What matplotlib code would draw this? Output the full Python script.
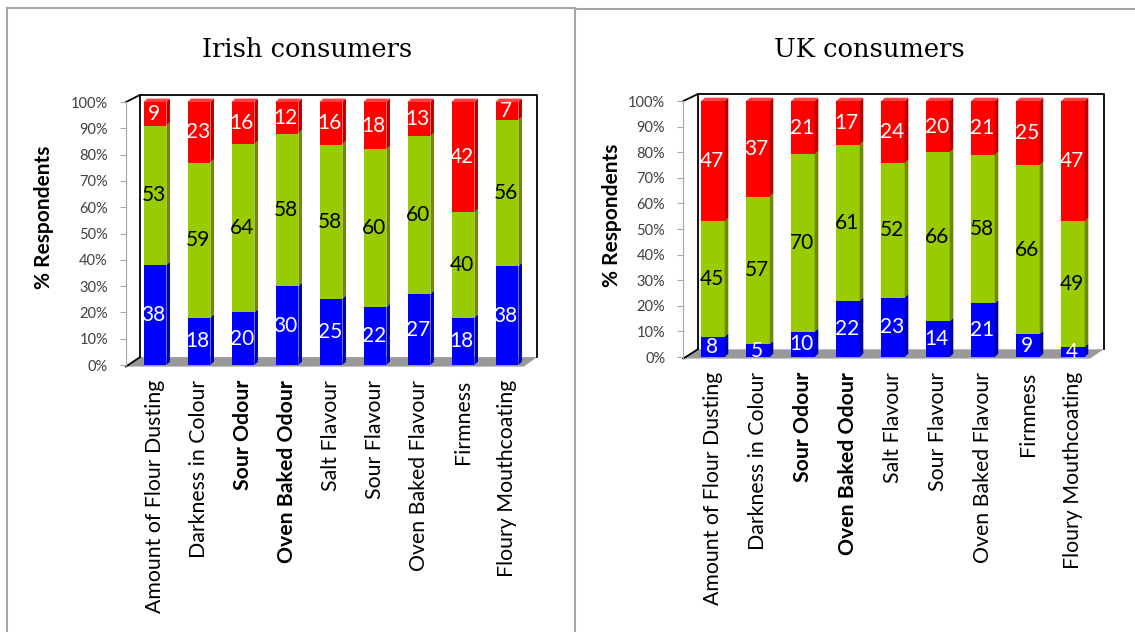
import matplotlib
matplotlib.use("Agg")
import matplotlib.pyplot as plt
import numpy as np
from matplotlib.patches import Polygon
from matplotlib.lines import Line2D

plt.rcParams['font.family'] = ['Lato', 'DejaVu Sans']

categories = ["Amount of Flour Dusting", "Darkness in Colour", "Sour Odour",
              "Oven Baked Odour", "Salt Flavour", "Sour Flavour",
              "Oven Baked Flavour", "Firmness", "Floury Mouthcoating"]
bold_categories = ["Sour Odour", "Oven Baked Odour"]

irish_blue = [38, 18, 20, 30, 25, 22, 27, 18, 38]
irish_green = [53, 59, 64, 58, 58, 60, 60, 40, 56]
irish_red = [9, 23, 16, 12, 16, 18, 13, 42, 7]

uk_blue = [8, 5, 10, 22, 23, 14, 21, 9, 4]
uk_green = [45, 57, 70, 61, 52, 66, 58, 66, 49]
uk_red = [47, 37, 21, 17, 24, 20, 21, 25, 47]

yticks = list(range(0, 101, 10))
ytick_labels = [str(v) + "%" for v in yticks]

# front, side, top colours, text colour
styles = [("#0000FF", "#0000A8", "#4040FF", "white"),
          ("#99CC00", "#6B8C00", "#B5DB40", "black"),
          ("#FF0000", "#B80000", "#FF4040", "white")]

W, H = 1135, 632


def px_rect(l, r, t, b):
    return [l / W, 1 - b / H, (r - l) / W, (b - t) / H]


def draw_panel(ax, series):
    x = np.arange(len(categories))
    w = 0.52
    ddx, ddy = 0.08, 1.3
    fx, bx, rx, frx = -0.66, -0.34, 8.68, 8.38
    fy0, fy1, top = -0.6, 3.0, 102.7

    # floor and back wall
    ax.add_patch(Polygon([(fx, fy0), (frx, fy0), (rx, fy1), (bx, fy1)],
                         facecolor="#999999", edgecolor="none", zorder=1))
    ax.plot([bx, bx, rx, rx], [fy1, top, top, fy1], color="black", lw=1.3, zorder=1)
    ax.plot([fx, bx], [100, top], color="black", lw=1.3, zorder=1)
    ax.plot([fx, bx], [fy0, fy1], color="black", lw=1.3, zorder=1)

    # 100% stacked: shares of each bar's total
    total = np.sum(series, axis=0)
    bottom = np.zeros(len(x))
    for vals, (front, side, topc, tc) in zip(series, styles):
        vals = np.array(vals)
        h = vals / total * 100
        ax.bar(x, h, w, bottom=bottom, color=front, linewidth=0, zorder=3)
        for xi, b, hv, v in zip(x, bottom, h, vals):
            ax.add_patch(Polygon([(xi + w / 2, b), (xi + w / 2 + ddx, b + ddy),
                                  (xi + w / 2 + ddx, b + hv + ddy), (xi + w / 2, b + hv)],
                                 facecolor=side, edgecolor="none", zorder=3))
            ax.text(xi - 0.03, b + hv / 2, str(v), color=tc, fontsize=15,
                    ha="center", va="center", zorder=5)
        bottom = bottom + h
    topc = styles[-1][2]
    for xi, t in zip(x, bottom):
        ax.add_patch(Polygon([(xi - w / 2, t), (xi - w / 2 + ddx, t + ddy),
                              (xi + w / 2 + ddx, t + ddy), (xi + w / 2, t)],
                             facecolor=topc, edgecolor="none", zorder=3))

    ax.set_xlim(-0.8, 8.9)
    ax.set_ylim(-3, 104)
    for s in ["top", "right", "bottom"]:
        ax.spines[s].set_visible(False)
    ax.spines["left"].set_position(("data", fx))
    ax.spines["left"].set_bounds(fy0, 100)
    ax.spines["left"].set_color("#A6A6A6")
    ax.set_yticks(yticks, ytick_labels)
    ax.tick_params(axis="y", direction="out", length=4, color="#A6A6A6",
                   labelsize=10.5, labelcolor="#404040", pad=9)
    ax.set_xticks(x, categories, rotation=90, fontsize=15.3)
    ax.tick_params(axis="x", length=0, pad=5)
    for lab in ax.get_xticklabels():
        if lab.get_text() in bold_categories:
            lab.set_fontweight("bold")
    ax.patch.set_alpha(0)


fig = plt.figure(figsize=(W / 100, H / 100), dpi=100)

ax1 = fig.add_axes(px_rect(119.8, 546.6, 91.5, 372.9))
draw_panel(ax1, [irish_blue, irish_green, irish_red])
ax2 = fig.add_axes(px_rect(677, 1113.5, 90.8, 364.7))
draw_panel(ax2, [uk_blue, uk_green, uk_red])

fig.text(307 / W, 1 - 57 / H, "Irish consumers", family="DejaVu Serif",
         fontsize=18.5, ha="center", va="baseline")
fig.text(869 / W, 1 - 57 / H, "UK consumers", family="DejaVu Serif",
         fontsize=18.5, ha="center", va="baseline")
fig.text(44 / W, 1 - 217 / H, "% Respondents", rotation=90, ha="center",
         va="center", fontweight="bold", fontsize=15)
fig.text(612.5 / W, 1 - 215 / H, "% Respondents", rotation=90, ha="center",
         va="center", fontweight="bold", fontsize=15)

# panel frames
gray = "#A6A6A6"
fig.add_artist(Line2D([7 / W, 575 / W], [1 - 8 / H, 1 - 8 / H], color=gray, lw=1.5))
fig.add_artist(Line2D([575 / W, 1], [1 - 9 / H, 1 - 9 / H], color=gray, lw=1.5))
fig.add_artist(Line2D([7 / W, 7 / W], [0, 1 - 8 / H], color=gray, lw=1.5))
fig.add_artist(Line2D([575 / W, 575 / W], [0, 1 - 8 / H], color=gray, lw=1.5))

fig.savefig("out.png", dpi=100)
